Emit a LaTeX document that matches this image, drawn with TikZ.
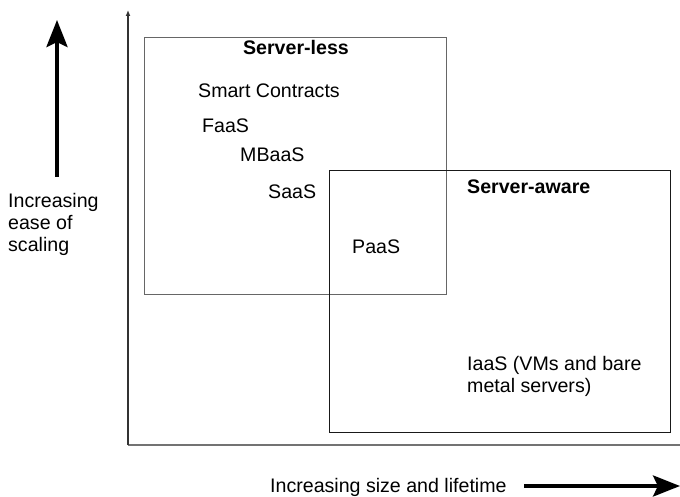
\documentclass[tikz,border=0pt]{standalone}
\usepackage{fontspec}
\setmainfont{Liberation Sans}
\usetikzlibrary{arrows.meta, positioning}
\tikzset{
    layers/.style={x=1pt, y=-1pt, font=\fontsize{19.6}{22}\selectfont},
    zone/.style={draw, line width=1pt, anchor=north west, inner sep=0pt},
    lbl/.style={inner sep=0pt, anchor=base west},
    head/.style={lbl, font=\fontsize{19.6}{22}\selectfont\bfseries},
    axis/.style={draw=black!55, line width=1.6pt},
    bigarrow/.style={line width=4pt, -{Stealth[length=27pt, width=21pt, inset=5pt]}},
}
\begin{document}
\begin{tikzpicture}[layers]
    \useasboundingbox (0,0) rectangle (680,497);

    % axes
    \coordinate (o)  at (128,445);
    \coordinate (xe) at (680,445);
    \coordinate (ye) at (128,10);
    \draw[axis] (o) -- (xe);
    \draw[axis, draw=black!80, line width=1.2pt, -{Latex[length=6pt, width=5pt]}] (o) -- (ye);

    % the two regions
    \node[zone, draw=black!60, minimum width=302pt, minimum height=257pt] (less)  at (144,37)  {};
    \node[zone, draw=black!90, minimum width=341pt, minimum height=262pt] (aware) at (329,170) {};

    \node[head, anchor=base] (lesst) at (296,55)  {Server-less};
    \node[head]              (awaret) at (467,194) {Server-aware};

    \node[lbl] (sc)   at (198,98)  {Smart Contracts};
    \node[lbl] (faas) at (202,133) {FaaS};
    \node[lbl] (mb)   at (240,162) {MBaaS};
    \node[lbl] (saas) at (268,199) {SaaS};
    \node[lbl] (paas) at (352,254) {PaaS};
    \node[lbl, anchor=north west, align=left] (iaas) at (467,356) {IaaS (VMs and bare\\metal servers)};

    % direction of the scales
    \node[lbl, anchor=north west, align=left] (ease) at (8,193) {Increasing\\ease of\\scaling};
    \coordinate (ua) at (57,177);
    \coordinate (ub) at (57,20);
    \draw[bigarrow] (ua) -- (ub);

    \node[lbl] (size) at (270,492) {Increasing size and lifetime};
    \coordinate (ra) at (524,486);
    \coordinate (rb) at (680,486);
    \draw[bigarrow] (ra) -- (rb);
\end{tikzpicture}
\end{document}
